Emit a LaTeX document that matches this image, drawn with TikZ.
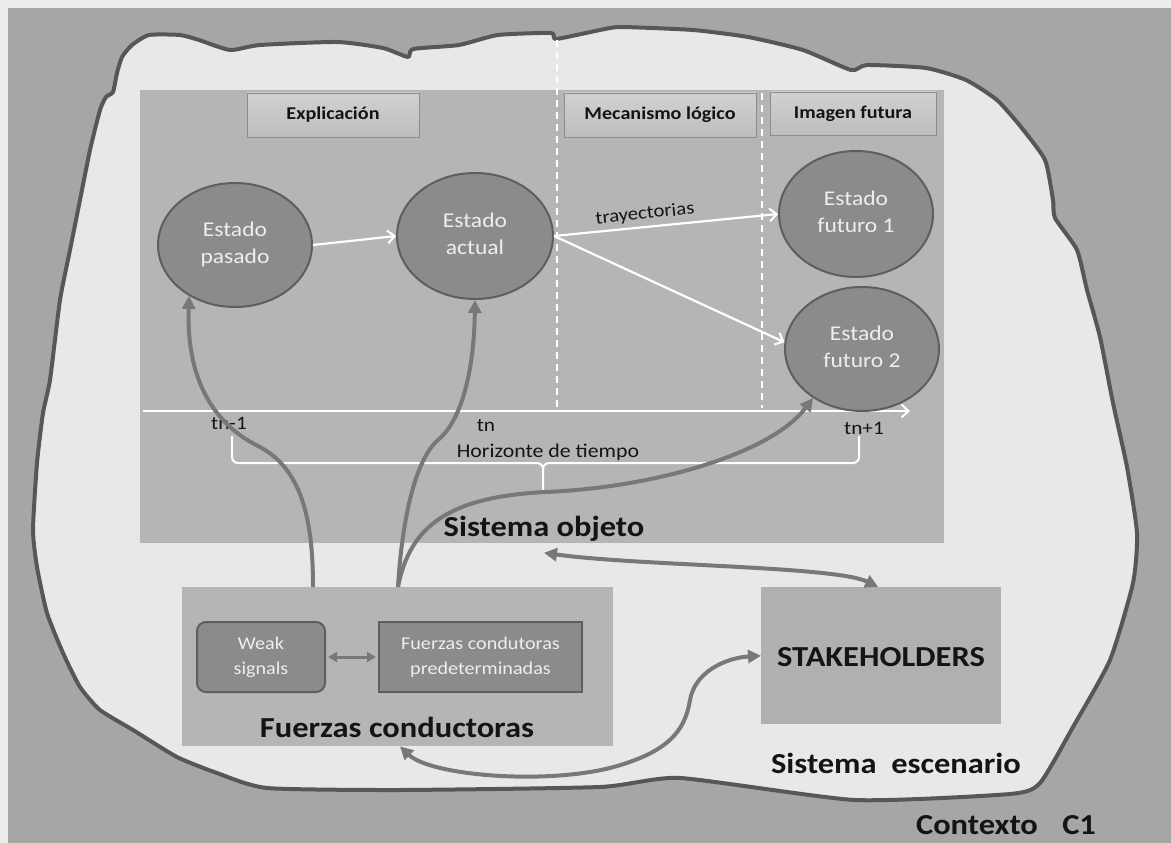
\documentclass[tikz,border=0pt]{standalone}
\usepackage{fontspec}
\usepackage{graphicx}
\setmainfont{Carlito}
\usetikzlibrary{arrows.meta,shapes.geometric,calc}

\definecolor{pagebg}{HTML}{EDEDED}
\definecolor{ctxgray}{HTML}{A6A6A6}
\definecolor{blobfill}{HTML}{E8E8E8}
\definecolor{blobline}{HTML}{575757}
\definecolor{sysfill}{HTML}{B5B5B5}
\definecolor{ellfill}{HTML}{8B8B8B}
\definecolor{ellline}{HTML}{5E5E5E}
\definecolor{connect}{HTML}{787878}
\definecolor{lighttext}{HTML}{EEEEEE}
\definecolor{darktext}{HTML}{141414}

% slightly widened lettering
\newcommand{\wide}[1]{\scalebox{1.12}[1]{#1}}
\newcommand{\twolines}[2]{\wide{\begin{tabular}{@{}c@{}}#1\\#2\end{tabular}}}
\newcommand{\fs}[2]{\fontsize{#1}{#2}\selectfont}

\begin{document}
\begin{tikzpicture}[x=1pt,y=-1pt,
  sysbox/.style={fill=sysfill, draw=none, inner sep=0pt, anchor=north west},
  headbox/.style={top color=black!18, bottom color=black!26, draw=black!45, line width=0.8pt,
    inner sep=0pt, font=\fs{18}{20}\bfseries, text=darktext},
  stateell/.style={ellipse, fill=ellfill, draw=ellline, line width=2pt, inner sep=0pt,
    text=lighttext, font=\fs{21}{27}},
  forcebox/.style={fill=ellfill, draw=ellline, line width=2pt, inner sep=0pt, anchor=north west,
    text=lighttext, font=\fs{18}{25}},
  bigtext/.style={font=\fs{29}{32}\bfseries, text=darktext, inner sep=0pt},
  smalltext/.style={font=\fs{19}{22}, text=darktext, inner sep=0pt},
  whitearrow/.style={draw=white, line width=2.2pt, -{Straight Barb[length=7pt,width=13pt,line width=2pt]}},
  conn/.style={draw=connect, line width=4pt, -{Triangle[length=13pt,width=13pt]}},
  conntwo/.style={draw=connect, line width=4pt, {Triangle[length=13pt,width=13pt]}-{Triangle[length=13pt,width=13pt]}},
  dashline/.style={draw=white, line width=2pt, dash pattern=on 7pt off 5pt}
]
\useasboundingbox (0,0) rectangle (1171,843);

% page and surrounding context
\fill[pagebg] (0,0) rectangle (1171,843);
\fill[ctxgray] (8,8) rectangle (1171,843);

% scenario system outline
\draw[blobline, line width=4pt, fill=blobfill, line join=round]
  plot[smooth cycle, tension=0.35] coordinates {
  (149,35) (180,35) (199,40) (230,50) (260,45) (337,42) (383,48) (408,57) (413,49)
  (459,45) (498,35) (551,33) (556,39) (600,30) (621,27) (693,30) (748,37) (803,50)
  (851,70) (867,65) (926,68) (966,80) (997,100) (1021,127) (1045,160) (1053,200)
  (1055,218) (1077,250) (1087,290) (1100,337) (1113,403) (1127,467) (1137,533)
  (1133,583) (1110,660) (1073,727) (1040,783) (1010,794) (855,800) (680,778)
  (600,787) (400,790) (267,788) (217,773) (177,757) (133,730) (100,710) (80,687)
  (63,653) (47,613) (37,567) (33,530) (37,463) (43,413) (50,380) (60,300) (70,250)
  (80,200) (90,150) (100,110) (106,97) (113,92) (117,73) (122,57) (132,45)};

% object system
\node[sysbox, minimum width=804pt, minimum height=453pt] (obj) at (140,90) {};

\draw[dashline] (557,40) -- (557,410);
\draw[dashline] (762,93) -- (762,408);

% column headers
\node[headbox, minimum width=172pt, minimum height=44pt] (hexp) at (333,115) {\wide{Explicación}};
\node[headbox, minimum width=192pt, minimum height=44pt] (hmec) at (660,115) {\wide{Mecanismo lógico}};
\node[headbox, minimum width=166pt, minimum height=43pt] (himg) at (853,113.5) {\wide{Imagen futura}};

% time axis
\coordinate (tstart) at (143,411);
\coordinate (tend) at (910,411);
\draw[whitearrow] (tstart) -- (tend);
\node[smalltext] (tn1) at (229,423) {\wide{tn-1}};
\node[smalltext] (tn) at (486,426) {\wide{tn}};
\node[smalltext] (tn2) at (864,428) {\wide{tn+1}};

% horizon brace
\draw[white, line width=2pt, rounded corners=6pt]
  (232,436) -- (232,463) -- (543,463) -- (543,490);
\draw[white, line width=2pt, rounded corners=6pt]
  (543,470) -- (543,463) -- (859,463) -- (859,436);
\node[font=\fs{19.5}{22}, text=darktext, inner sep=0pt] (hor) at (548,452) {\wide{Horizonte de tiempo}};

% states
\node[stateell, minimum width=154pt, minimum height=124pt] (pas) at (235,245) {\twolines{Estado}{pasado}};
\node[stateell, minimum width=156pt, minimum height=126pt] (act) at (475,236) {\twolines{Estado}{actual}};
\node[stateell, minimum width=154pt, minimum height=126pt] (fu1) at (856,214) {\twolines{Estado}{futuro 1}};
\node[stateell, minimum width=154pt, minimum height=124pt] (fu2) at (862,349) {\twolines{Estado}{futuro 2}};

\draw[whitearrow] (pas.east) -- (act.west);
\draw[whitearrow] (act.east) -- (fu1.west);
\draw[whitearrow] (act.east) -- (fu2.175);
\node[font=\fs{18.5}{20}, text=darktext, inner sep=0pt, rotate=6] (tray) at (645,214) {\wide{trayectorias}};

\node[bigtext] (objl) at (544,529) {\wide{Sistema objeto}};

% driving forces
\node[sysbox, minimum width=431pt, minimum height=159pt] (fz) at (182,587) {};
\node[forcebox, rounded corners=9pt, minimum width=128pt, minimum height=70pt] (ws) at (196,621) {};
\node[text=lighttext, font=\fs{18}{25}, inner sep=0pt] (wst) at (ws.center) {\twolines{Weak}{signals}};
\node[forcebox, minimum width=203pt, minimum height=70pt] (fp) at (378,621) {};
\node[text=lighttext, font=\fs{18}{25}, inner sep=0pt] (fpt) at (fp.center) {\twolines{Fuerzas condutoras}{predeterminadas}};
\node[bigtext] (fzl) at (397,727) {\wide{Fuerzas conductoras}};

\draw[draw=connect, line width=3pt, {Triangle[length=9pt,width=10pt]}-{Triangle[length=9pt,width=10pt]}]
  ([xshift=2pt]ws.east) -- ([xshift=-2pt]fp.west);

% stakeholders
\node[sysbox, fill=black!31, minimum width=240pt, minimum height=137pt] (stk) at (761,587) {};
\node[bigtext] (stkl) at (881,657) {\wide{STAKEHOLDERS}};
\node[bigtext] (escl) at (896,763) {\wide{Sistema\hspace{0.45em}escenario}};
\node[bigtext] (ctxl) at (1006,825) {\wide{Contexto\hspace{0.75em}C1}};

% influences on the states
\draw[conn] ([xshift=131pt]fz.north west)
  .. controls (313,520) and (302,468) .. (258,446)
  .. controls (218,426) and (186,385) .. (pas.228);
\draw[conn] ([xshift=216pt]fz.north west)
  .. controls (402,520) and (415,460) .. (438,440)
  .. controls (462,420) and (474,370) .. (act.south);
\draw[conn] ([xshift=216pt]fz.north west)
  .. controls (410,525) and (450,497) .. (545,492)
  .. controls (650,488) and (770,455) .. (fu2.225);

% exchanges with the stakeholders
\draw[conntwo] ([yshift=-11pt]objl.south)
  .. controls (640,566) and (835,566) .. ([xshift=-3pt]stk.north);
\draw[conntwo] ([xshift=218pt]fz.south west)
  .. controls (430,775) and (540,785) .. (610,768)
  .. controls (670,752) and (685,730) .. (690,700)
  .. controls (695,672) and (725,658) .. (stk.west);
\end{tikzpicture}
\end{document}
